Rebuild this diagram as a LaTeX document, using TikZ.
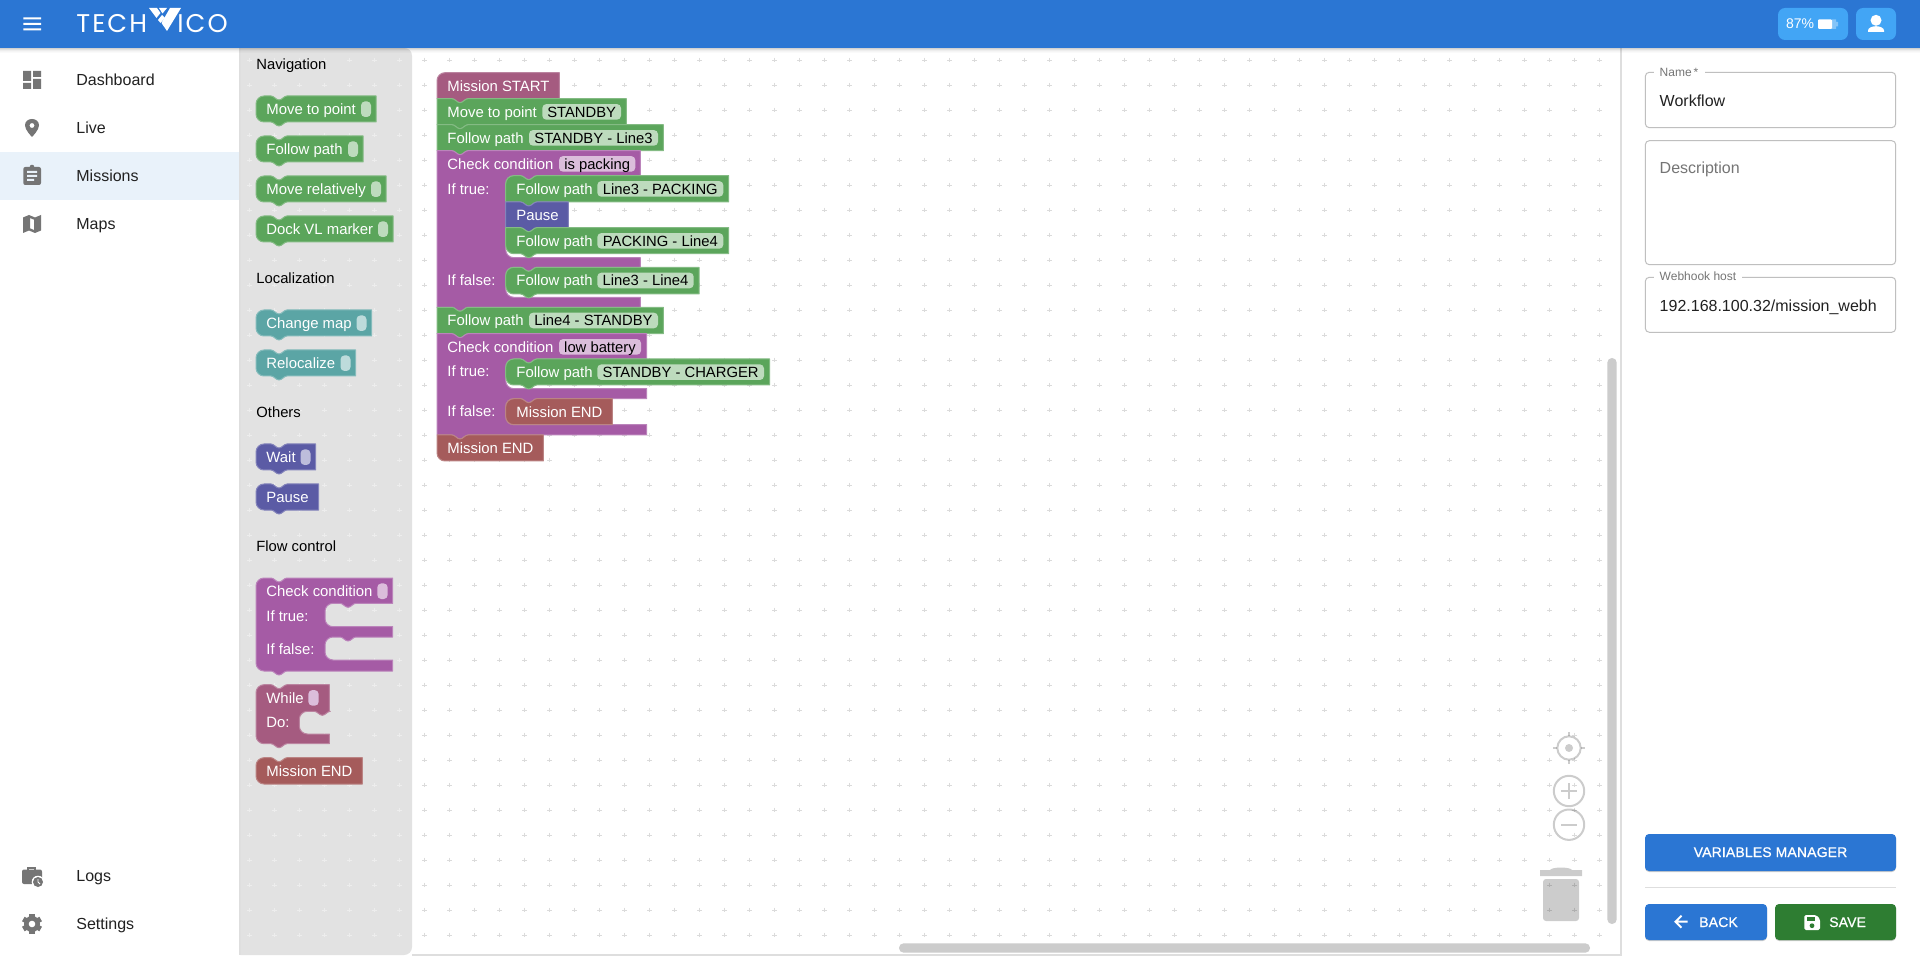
\documentclass[tikz,border=0pt]{standalone}
\usepackage{fontspec}
\setmainfont{Liberation Sans}
\newfontfamily\logofont[LetterSpace=8]{Poppins}
\newfontfamily\btnfont[FakeBold=0.8,LetterSpace=1]{Liberation Sans}
\definecolor{hdr}{HTML}{2B76D3}
\definecolor{chip}{HTML}{42A5F5}
\definecolor{sel}{HTML}{E9F2FA}
\definecolor{fly}{HTML}{E2E2E2}
\definecolor{icn}{HTML}{757575}
\definecolor{txt}{HTML}{212121}
\definecolor{gG}{HTML}{5BA55B}
\definecolor{gT}{HTML}{5BA5A5}
\definecolor{gI}{HTML}{5B5BA5}
\definecolor{gP}{HTML}{A55BA5}
\definecolor{gW}{HTML}{A55B80}
\definecolor{gE}{HTML}{A55B5B}
\definecolor{pG}{HTML}{BDDBBD}
\definecolor{pT}{HTML}{BDDBDB}
\definecolor{pI}{HTML}{BDBDDB}
\definecolor{pP}{HTML}{DBBDDB}
\definecolor{svg}{HTML}{2E7D32}
\tikzset{
 btxt/.style={anchor=base west,inner sep=0pt,text=white,font=\fontsize{7.45pt}{8pt}\selectfont},
 ptxt/.style={anchor=base,inner sep=0pt,text=black,font=\fontsize{7.4pt}{8pt}\selectfont},
 head/.style={anchor=base west,inner sep=0pt,text=black,font=\fontsize{7.4pt}{8pt}\selectfont},
 navt/.style={anchor=base west,inner sep=0pt,text=txt,font=\fontsize{8pt}{9pt}\selectfont},
 flab/.style={anchor=base west,inner sep=0pt,text=icn,font=\fontsize{6pt}{7pt}\selectfont},
 fval/.style={anchor=base west,inner sep=0pt,text=txt,font=\fontsize{8pt}{9pt}\selectfont},
 btn/.style={anchor=base,inner sep=0pt,text=white,font=\btnfont\fontsize{7pt}{8pt}\selectfont},
 blockline/.style={line width=.5pt,line join=round},
 ctl/.style={draw=black,draw opacity=.2,line width=1pt},
 field/.style={draw=black!25,line width=.5pt,rounded corners=2pt}
}
% x,y,x2,y2,topradius,botradius,notch depth,tab depth
\newcommand{\blk}[9]{\filldraw[blockline,fill=#1,draw=#1!75!white]
 (#2,#3+#6) .. controls (#2,#3+#6*.45) and (#2+#6*.45,#3) .. (#2+#6,#3) -- (#2+15,#3)
 .. controls (#2+18,#3) and (#2+20,#3+#8) .. (#2+23,#3+#8) .. controls (#2+26,#3+#8) and (#2+28,#3) .. (#2+31,#3)
 -- (#4,#3) -- (#4,#5) -- (#2+31,#5)
 .. controls (#2+28,#5) and (#2+26,#5+#9) .. (#2+23,#5+#9) .. controls (#2+20,#5+#9) and (#2+18,#5) .. (#2+15,#5)
 -- (#2+#7,#5) .. controls (#2+#7*.45,#5) and (#2,#5-#7*.45) .. (#2,#5-#7) -- cycle;}
% statement opening: xc,ytop,ybot,x2
\newcommand{\stmt}[4]{-- (#4,#2) -- (#1+31,#2)
 .. controls (#1+28,#2) and (#1+26,#2+4) .. (#1+23,#2+4) .. controls (#1+20,#2+4) and (#1+18,#2) .. (#1+15,#2)
 -- (#1+8,#2) .. controls (#1+3.6,#2) and (#1,#2+3.6) .. (#1,#2+8) -- (#1,#3-8)
 .. controls (#1,#3-3.6) and (#1+3.6,#3) .. (#1+8,#3) -- (#4,#3)}
\newcommand{\ctop}[3]{(#1,#2+8) .. controls (#1,#2+3.6) and (#1+3.6,#2) .. (#1+8,#2) -- (#1+15,#2)
 .. controls (#1+18,#2) and (#1+20,#2+4) .. (#1+23,#2+4) .. controls (#1+26,#2+4) and (#1+28,#2) .. (#1+31,#2) -- (#3,#2)}
\newcommand{\cbot}[4]{-- (#3,#2) -- (#1+31,#2)
 .. controls (#1+28,#2) and (#1+26,#2+4) .. (#1+23,#2+4) .. controls (#1+20,#2+4) and (#1+18,#2) .. (#1+15,#2)
 -- (#1+#4,#2) .. controls (#1+#4*.45,#2) and (#1,#2-#4*.45) .. (#1,#2-#4) -- cycle}
% name,x1,x2,blocktop,colour,text
\newcommand{\fieldp}[6]{\fill[#5,rounded corners=2pt] (#2,#4+5.4) rectangle (#3,#4+21);
 \node[ptxt] (#1) at ({(#2+#3)/2},#4+18.4) {#6};}
\newcommand{\epill}[4]{\fill[#4,rounded corners=2pt] (#1,#3+5.4) rectangle (#2,#3+21);}
\begin{document}
\begin{tikzpicture}[x=.5pt,y=-.5pt]
\useasboundingbox (0,0) rectangle (1920,956);
\fill[white] (0,0) rectangle (1920,956);
% sidebar selection
\fill[sel] (0,152) rectangle (239,200);
% canvas grid
\foreach \gx in {424.3,449.3,...,1600}{\foreach \gy in {60,85,...,950}{
 \draw[black!14,line width=.45pt] (\gx-2.3,\gy) -- (\gx+2.3,\gy) (\gx,\gy-2.3) -- (\gx,\gy+2.3);}}
% flyout
\fill[black!13] (239,48) rectangle (242,955);
\fill[fly] (240.7,48) -- (404,48) .. controls (408.5,48) and (412,51) .. (412,56) -- (412,947) .. controls (412,951.5) and (408.5,955) .. (404,955) -- (240.7,955) -- cycle;
\foreach \gx in {249.3,274.3,...,400}{\foreach \gy in {60,85,...,950}{
 \draw[black!7,line width=.45pt] (\gx-2.3,\gy) -- (\gx+2.3,\gy) (\gx,\gy-2.3) -- (\gx,\gy+2.3);}}
\fill[black!13] (412,954) rectangle (1621,955.5);
\fill[black!13] (1620,48) rectangle (1621.5,956);
% flyout headings
\node[head] (hnav) at (256,70) {Navigation};
\node[head] (hloc) at (256,283.5) {Localization};
\node[head] (hoth) at (256,417.5) {Others};
\node[head] (hflow) at (256,551.5) {Flow control};
% flyout blocks
\blk{gG}{256}{96}{376}{122}{8}{8}{4}{4}
\node[btxt] (f1) at (266,114.4) {Move to point}; \epill{361}{371}{96}{pG}
\blk{gG}{256}{136}{363}{162}{8}{8}{4}{4}
\node[btxt] (f2) at (266,154.4) {Follow path}; \epill{348}{358}{136}{pG}
\blk{gG}{256}{176}{386}{202}{8}{8}{4}{4}
\node[btxt] (f3) at (266,194.4) {Move relatively}; \epill{371}{381}{176}{pG}
\blk{gG}{256}{216}{393}{242}{8}{8}{4}{4}
\node[btxt] (f4) at (266,234.4) {Dock VL marker}; \epill{378}{388}{216}{pG}
\blk{gT}{256}{310}{371.7}{336}{8}{8}{4}{4}
\node[btxt] (f5) at (266,328.4) {Change map}; \epill{356.5}{366.5}{310}{pT}
\blk{gT}{256}{350}{355.7}{376}{8}{8}{4}{4}
\node[btxt] (f6) at (266,368.4) {Relocalize}; \epill{340.5}{350.5}{350}{pT}
\blk{gI}{256}{444}{315.7}{470}{8}{8}{4}{4}
\node[btxt] (f7) at (266,462.4) {Wait}; \epill{300.5}{310.5}{444}{pI}
\blk{gI}{256}{484}{318.7}{510}{8}{8}{4}{4}
\node[btxt] (f8) at (266,502.4) {Pause};
% flyout check condition
\filldraw[blockline,fill=gP,draw=gP!75!white] \ctop{256}{578}{392.7} \stmt{325}{603.3}{626.7}{392.7} \stmt{325}{637}{660}{392.7} \cbot{256}{671}{392.7}{8};
\node[btxt] (f9) at (266,596) {Check condition}; \epill{377.3}{387.7}{578}{pP}
\node[btxt] (f10) at (266,621) {If true:};
\node[btxt] (f11) at (266,654.7) {If false:};
% flyout while
\filldraw[blockline,fill=gW,draw=gW!75!white] \ctop{256}{684.7}{329.3} \stmt{299.3}{711.3}{734}{329.3} \cbot{256}{743.7}{329.3}{8};
\node[btxt] (f12) at (266,703) {While}; \epill{308.3}{318.7}{684.7}{pP}
\node[btxt] (f13) at (266,727.7) {Do:};
\blk{gE}{256}{757.7}{362.3}{784}{8}{8}{4}{0}
\node[btxt] (f14) at (266,776) {Mission END};
% canvas stack
\blk{gW}{437}{72.7}{559.3}{98.7}{8}{0}{0}{4}
\node[btxt] (c1) at (447,91.1) {Mission START};
\blk{gG}{437}{98.7}{626.3}{124.7}{0}{0}{4}{4}
\node[btxt] (c2) at (447,117.1) {Move to point};
\fieldp{c2v}{542.3}{621}{98.7}{pG}{STANDBY}
\blk{gG}{437}{124.7}{663.3}{150.7}{0}{0}{4}{4}
\node[btxt] (c3) at (447,143.1) {Follow path};
\fieldp{c3v}{529}{658}{124.7}{pG}{STANDBY - Line3}
% condition 1
\filldraw[blockline,fill=gP,draw=gP!75!white] (437,150.7) -- (452,150.7) .. controls (455,150.7) and (457,154.7) .. (460,154.7) .. controls (463,154.7) and (465,150.7) .. (468,150.7) -- (640.3,150.7) \stmt{505.7}{175.7}{257.7}{640.3} \stmt{505.7}{267.3}{297.3}{640.3} \cbot{437}{307.3}{640.3}{0};
\node[btxt] (c4) at (447,169.1) {Check condition};
\fieldp{c4v}{559}{635.3}{150.7}{pP}{is packing}
\node[btxt] (c5) at (447,194.6) {If true:};
\node[btxt] (c6) at (447,286) {If false:};
\blk{gG}{505.7}{175.7}{728.7}{202}{8}{0}{4}{4}
\node[btxt] (c7) at (516,194.1) {Follow path};
\fieldp{c7v}{597.3}{723.3}{175.7}{pG}{Line3 - PACKING}
\blk{gI}{505.7}{202}{568.3}{227.7}{0}{0}{4}{4}
\node[btxt] (c8) at (516,220.4) {Pause};
\blk{gG}{505.7}{227.7}{728.7}{253.7}{0}{8}{4}{4}
\node[btxt] (c9) at (516,246.1) {Follow path};
\fieldp{c9v}{597.3}{723.3}{227.7}{pG}{PACKING - Line4}
\blk{gG}{505.7}{267.3}{699}{294}{8}{8}{4}{4}
\node[btxt] (c10) at (516,285.7) {Follow path};
\fieldp{c10v}{597.3}{693.7}{267.3}{pG}{Line3 - Line4}
\blk{gG}{437}{307.3}{663.3}{333.7}{0}{0}{4}{4}
\node[btxt] (c11) at (447,325.7) {Follow path};
\fieldp{c11v}{529}{658}{307.3}{pG}{Line4 - STANDBY}
% condition 2
\filldraw[blockline,fill=gP,draw=gP!75!white] (437,333.7) -- (452,333.7) .. controls (455,333.7) and (457,337.7) .. (460,337.7) .. controls (463,337.7) and (465,333.7) .. (468,333.7) -- (646.7,333.7) \stmt{505.7}{359}{388.7}{646.7} \stmt{505.7}{398.7}{424.7}{646.7} \cbot{437}{435}{646.7}{0};
\node[btxt] (c12) at (447,352.1) {Check condition};
\fieldp{c12v}{559}{641}{333.7}{pP}{low battery}
\node[btxt] (c13) at (447,377) {If true:};
\node[btxt] (c14) at (447,417) {If false:};
\blk{gG}{505.7}{359}{769.7}{385}{8}{8}{4}{4}
\node[btxt] (c15) at (516,377.4) {Follow path};
\fieldp{c15v}{597.3}{764}{359}{pG}{STANDBY - CHARGER}
\blk{gE}{505.7}{398.7}{612.3}{424.7}{8}{8}{4}{0}
\node[btxt] (c16) at (516,417.1) {Mission END};
\blk{gE}{437}{435}{543.3}{461}{0}{8}{4}{0}
\node[btxt] (c17) at (447,453.4) {Mission END};
% scrollbars
\fill[black!20,rounded corners=2.3pt] (1607.3,358) rectangle (1616.7,924);
\fill[black!20,rounded corners=2.3pt] (899,943.3) rectangle (1590,952.7);
% workspace controls
\draw[ctl] (1569,748) circle[radius=11.7];
\fill[black,opacity=.2] (1569,748) circle[radius=4];
\draw[ctl] (1553.3,748) -- (1557.3,748) (1580.7,748) -- (1584.7,748) (1569,732.3) -- (1569,736.3) (1569,759.7) -- (1569,763.7);
\draw[ctl] (1569,791) circle[radius=15.2];
\draw[ctl] (1561,791) -- (1577,791) (1569,783) -- (1569,799);
\draw[ctl] (1569,824.7) circle[radius=15.2];
\draw[ctl] (1561,824.7) -- (1577,824.7);
\fill[black,opacity=.2] (1550,870) .. controls (1552,866.7) and (1570,866.7) .. (1572,870) -- (1582,870) -- (1582,876) -- (1540,876) -- (1540,870) -- cycle;
\fill[black,opacity=.2,rounded corners=1.5pt] (1543,879) rectangle (1579,921);
% header
\foreach \sy/\so in {48/.18,49/.12,50/.07,51/.04,52/.02}{\fill[black,opacity=\so] (0,\sy) rectangle (1920,\sy+1);}
\fill[hdr] (0,0) rectangle (1920,48);
\fill[white] (23.3,17.5) rectangle (41,19.5) (23.3,23) rectangle (41,25) (23.3,28.5) rectangle (41,30.5);
\node[anchor=base west,inner sep=0pt,text=white,font=\logofont\fontsize{12.8pt}{14pt}\selectfont] (logo1) at (76,33) {TECH};
\node[anchor=base west,inner sep=0pt,text=white,font=\logofont\fontsize{12.8pt}{14pt}\selectfont] (logo2) at (177,33) {ICO};
\fill[white] (170,8) -- (181,8) -- (167,31) -- (161.5,23) -- cycle;
\fill[white] (149,8) -- (157,8) -- (160.5,13) -- (156.5,18) -- cycle;
\fill[white] (159,8) -- (167,8) -- (162.5,13.5) -- cycle;
\fill[white] (158,20) -- (162,15) -- (165,18) -- (160.5,23) -- cycle;
% battery and user chips
\fill[chip,rounded corners=3.5pt] (1778,8) rectangle (1848,40);
\fill[chip,rounded corners=3.5pt] (1856,8) rectangle (1896,40);
\node[anchor=base west,inner sep=0pt,text=white,font=\fontsize{7pt}{8pt}\selectfont] (bat) at (1785.7,29) {87\%};
\fill[white,opacity=.35] (1832,19.3) rectangle (1836,29) (1836,22) rectangle (1838,26.3);
\fill[white,rounded corners=.5pt] (1818,19.3) rectangle (1832,29);
\fill[white] (1876,20.3) circle[radius=5.5];
\fill[white] (1868,32) -- (1868,30.5) .. controls (1868,27.5) and (1873,26.2) .. (1876,26.2) .. controls (1879,26.2) and (1884,27.5) .. (1884,30.5) -- (1884,32) -- cycle;
% sidebar nav
\node[navt] (n1) at (76,86) {Dashboard};
\node[navt] (n2) at (76,134) {Live};
\node[navt] (n3) at (76,182) {Missions};
\node[navt] (n4) at (76,230) {Maps};
\node[navt] (n5) at (76,881.7) {Logs};
\node[navt] (n6) at (76,929.7) {Settings};
\fill[icn] (23,71) rectangle (31,81) (23,83) rectangle (31,89) (33,71) rectangle (41,77) (33,79) rectangle (41,89);
\fill[icn,even odd rule] (25,125.5) .. controls (25,121.5) and (28,119) .. (32,119) .. controls (36,119) and (39,121.5) .. (39,125.5) .. controls (39,130) and (32,137) .. (32,137) .. controls (32,137) and (25,130) .. (25,125.5) -- cycle (32,125.5) circle[radius=2.5];
\fill[icn,rounded corners=1pt] (23.3,167) rectangle (41,185);
\fill[icn] (32,167) circle[radius=2.3];
\fill[sel] (27,171) rectangle (37,173) (27,175) rectangle (37,177) (27,179) rectangle (34,181);
\fill[icn,even odd rule] (23,217.5) -- (29,215) -- (35,217.5) -- (41,215) -- (41,230.5) -- (35,233) -- (29,230.5) -- (23,233) -- cycle (30,218) -- (34,219.7) -- (34,230) -- (30,228.3) -- cycle;
% logs icon
\draw[icn,line width=1pt] (27.5,870) -- (27.5,867.5) -- (34.5,867.5) -- (34.5,870);
\fill[icn,rounded corners=1pt] (22,869.5) rectangle (42,884);
\fill[white] (38,882) circle[radius=6.3];
\fill[icn] (38,882) circle[radius=5];
\draw[white,line width=.4pt] (38,879) -- (38,882) -- (40,884);
% settings icon
\foreach \ga in {0,60,...,300}{\draw[icn,line width=2.6pt] (32,924) -- ++(\ga+30:10);}
\fill[icn] (32,924) circle[radius=8];
\fill[white] (32,924) circle[radius=3.3];
% right panel fields
\draw[field] (1645.3,72.3) rectangle (1895.7,127.7);
\fill[white] (1654,70) rectangle (1705,75);
\node[flab] (l1) at (1659.3,76.5) {Name\,*};
\node[fval] (v1) at (1659.3,106.4) {Workflow};
\draw[field] (1645.3,140.7) rectangle (1895.7,264.7);
\node[fval,text=icn] (v2) at (1659.3,173.5) {Description};
\draw[field] (1645.3,277.3) rectangle (1895.7,332.3);
\fill[white] (1654,275) rectangle (1742,280);
\node[flab] (l3) at (1659.3,280.5) {Webhook host};
\node[fval] (v3) at (1659.3,311.5) {192.168.100.32/mission\_webh};
% buttons
\fill[black,opacity=.2,rounded corners=2pt] (1645,835.5) rectangle (1896,872);
\fill[black,opacity=.2,rounded corners=2pt] (1645,905.5) rectangle (1767,941);
\fill[black,opacity=.2,rounded corners=2pt] (1775,905.5) rectangle (1896,941);
\fill[hdr,rounded corners=2pt] (1645,834) rectangle (1896,871);
\fill[hdr,rounded corners=2pt] (1645,904) rectangle (1767,940);
\fill[svg,rounded corners=2pt] (1775,904) rectangle (1896,940);
\fill[black!13] (1645,886.7) rectangle (1896,888);
\node[btn] (b1) at (1770.5,857) {VARIABLES MANAGER};
\node[btn] (b2) at (1718.5,927) {BACK};
\node[btn] (b3) at (1847.6,927) {SAVE};
\draw[white,line width=1pt] (1687.7,921.7) -- (1676,921.7) (1681.5,915.7) -- (1675.5,921.7) -- (1681.5,927.7);
\fill[white,rounded corners=.8pt] (1804.3,915) -- (1816,915) -- (1820,919) -- (1820,930) -- (1804.3,930) -- cycle;
\fill[svg] (1806.8,917.3) rectangle (1815,920.7);
\fill[svg] (1812,925.7) circle[radius=2.4];
\end{tikzpicture}
\end{document}
